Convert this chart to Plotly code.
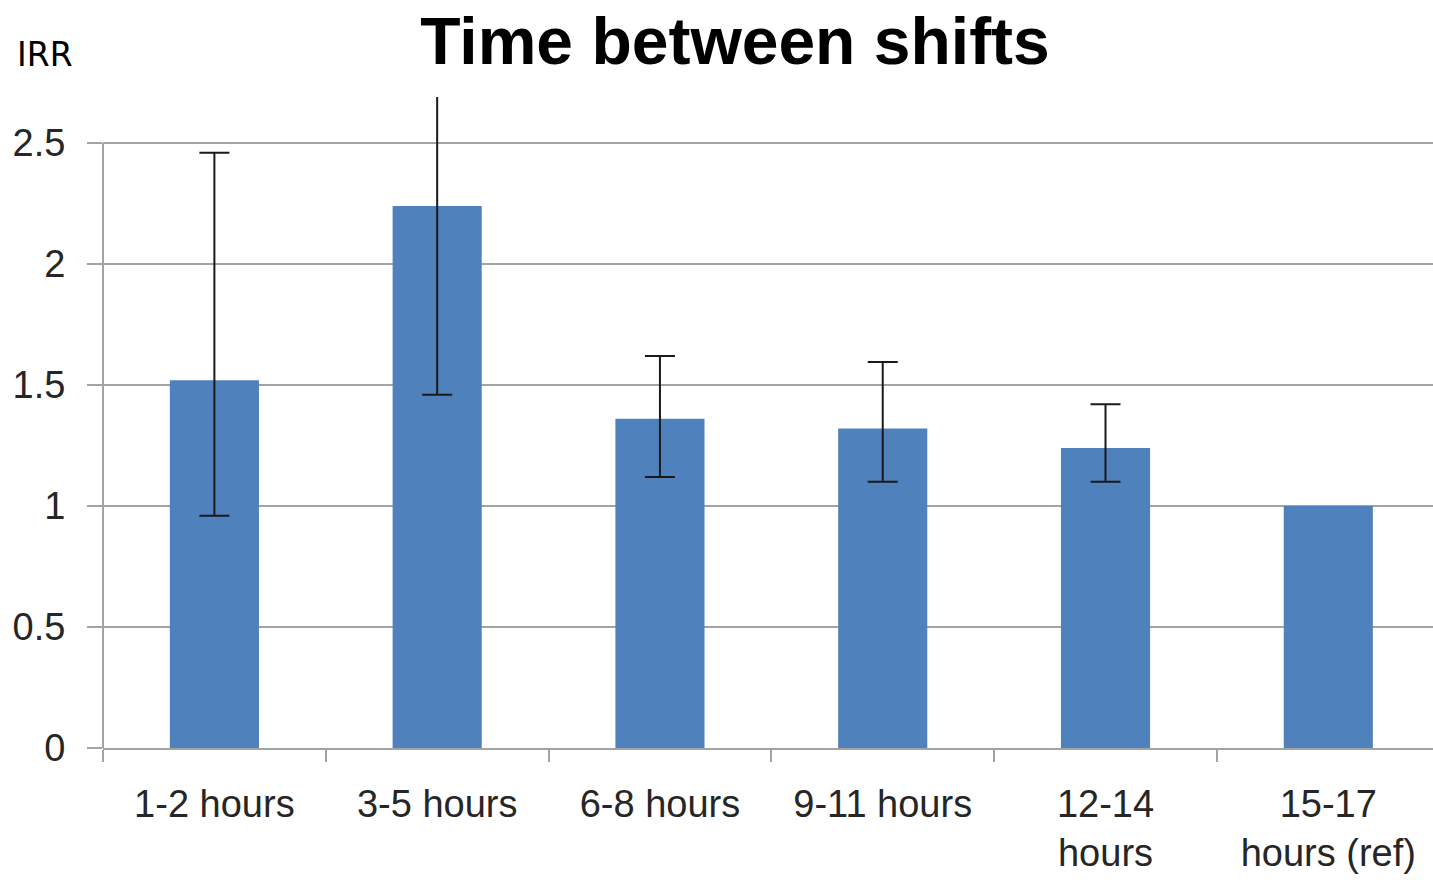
import plotly.graph_objects as go

categories = ["1-2 hours", "3-5 hours", "6-8 hours", "9-11 hours", "12-14<br>hours", "15-17<br>hours (ref)"]
irr = [1.52, 2.24, 1.36, 1.32, 1.24, 1.00]
# 95% CI bounds (the reference category has none)
ci_upper = [2.46, 2.75, 1.62, 1.595, 1.42]
ci_lower = [0.96, 1.46, 1.12, 1.10, 1.10]

n_ci = len(ci_upper)
err_plus = [u - v for u, v in zip(ci_upper, irr[:n_ci])]
err_minus = [v - l for l, v in zip(ci_lower, irr[:n_ci])]

GRID = "#a3a3a3"
TXT = "#262626"
FONT = "Liberation Sans, Arial, sans-serif"
BAR = "#4f81bd"

W, H = 1433, 882

fig = go.Figure()
fig.add_trace(go.Bar(
    x=categories[:n_ci], y=irr[:n_ci],
    marker=dict(color=BAR, line=dict(width=0)),
    width=0.4,
    error_y=dict(type="data", symmetric=False, array=err_plus, arrayminus=err_minus,
                 color="#1a1a1a", thickness=2, width=15, visible=True),
    showlegend=False,
))
fig.add_trace(go.Bar(
    x=categories[n_ci:], y=irr[n_ci:],
    marker=dict(color=BAR, line=dict(width=0)),
    width=0.4,
    showlegend=False,
))

fig.update_layout(
    width=W, height=H, barmode="overlay",
    margin=dict(l=103, r=0, t=97, b=134, pad=0, autoexpand=False),
    paper_bgcolor="white", plot_bgcolor="white",
    title=dict(text="<b>Time between shifts</b>", x=(735 - 103) / 1330, xref="paper", xanchor="center",
               y=1 - 41 / H, yref="container", yanchor="middle",
               font=dict(family=FONT, size=66, color="black")),
    font=dict(family=FONT, color=TXT),
)

fig.update_xaxes(
    type="category", categoryorder="array", categoryarray=categories,
    range=[-0.5, 5.47], automargin=False,
    showline=True, linecolor=GRID, linewidth=2,
    ticks="outside", tickson="boundaries", ticklen=12, tickcolor=GRID, tickwidth=2,
    ticklabelstandoff=21,
    tickfont=dict(family=FONT, size=38, color=TXT),
    showgrid=False, zeroline=False,
)
fig.update_yaxes(
    range=[0, 2.69], automargin=False,
    tickvals=[0, 0.5, 1, 1.5, 2, 2.5], ticktext=["0", "0.5", "1", "1.5", "2", "2.5"],
    showgrid=True, gridcolor=GRID, gridwidth=2,
    showline=False, zeroline=False,
    ticks="outside", ticklen=15, tickcolor=GRID, tickwidth=2,
    ticklabelstandoff=14,
    tickfont=dict(family=FONT, size=38, color=TXT),
)
# left axis line from 0 to top gridline
fig.add_shape(type="line", xref="paper", yref="y", x0=0, x1=0, y0=0, y1=2.5,
              line=dict(color=GRID, width=2), layer="above")

fig.add_annotation(text="IRR", xref="paper", yref="paper", x=(15 - 103) / 1330, y=1 + (97 - 54) / 651,
                   xanchor="left", yanchor="middle", showarrow=False,
                   font=dict(family="DejaVu Sans, sans-serif", size=33, color="black"))

fig.write_html("out.html",
               config={"displayModeBar": False},
               post_script="document.body.style.margin='0';document.body.style.overflow='hidden';")
